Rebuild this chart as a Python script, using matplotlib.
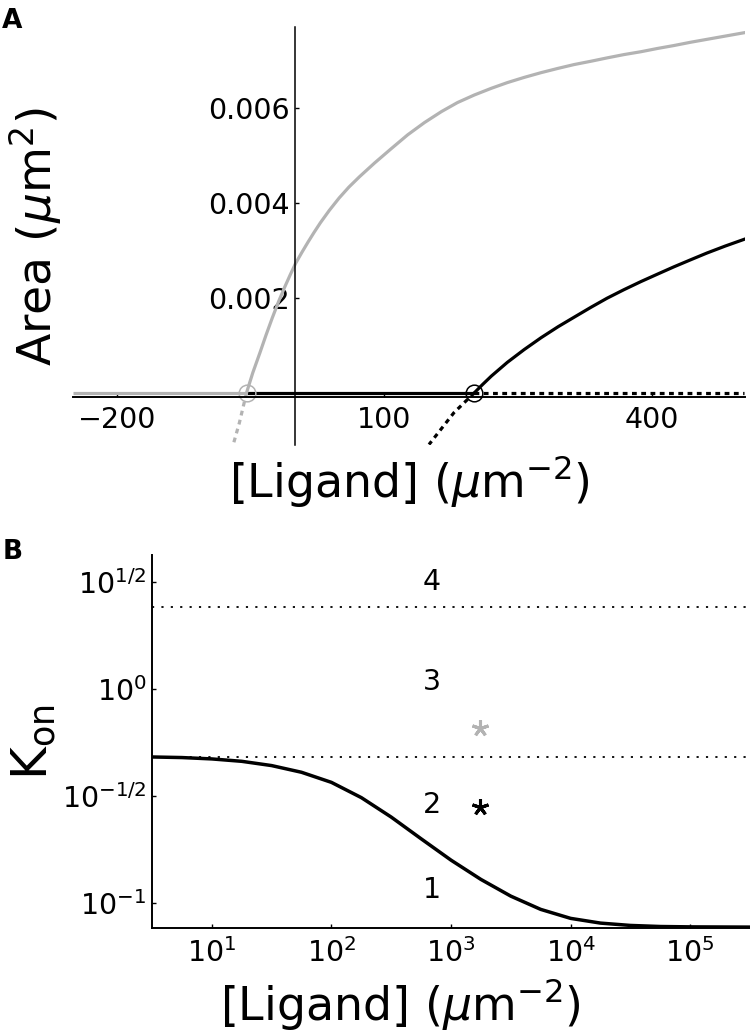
import matplotlib.pyplot as plt
import numpy as np

# -------------------------
# Panel A data
# -------------------------
grey_flat_x = [-250, -55]
grey_flat_a = [0.0, 0.0]
grey_rise_x = [-55, -48, -40, -33, -26, -19, -12, -6, 0, 7, 14, 21, 28, 38, 49,
               60, 72, 89, 107, 126, 145, 164, 182, 201, 220, 238, 257, 276,
               295, 313, 332, 350, 369, 388, 407, 425, 444, 462, 483, 504]
grey_rise_a = [0.0, 0.00042, 0.00084, 0.00122, 0.00158, 0.00192, 0.00223,
               0.00248, 0.00272, 0.00295, 0.00317, 0.00338, 0.00358, 0.00384,
               0.00410, 0.00433, 0.00455, 0.00484, 0.00513, 0.00543, 0.00569,
               0.00592, 0.00611, 0.00627, 0.00641, 0.00653, 0.00664, 0.00674,
               0.00683, 0.00691, 0.00698, 0.00705, 0.00712, 0.00718, 0.00725,
               0.00731, 0.00738, 0.00744, 0.00751, 0.00758]
grey_unstable_x = [-55.0, -63.0, -70.7]
grey_unstable_a = [0.0, -0.00063, -0.00114]

black_flat_x = [-55, 201]
black_flat_a = [0.0, 0.0]
black_rise_x = [201, 210, 220, 238, 257, 276, 295, 313, 332, 350, 369, 388,
                407, 425, 444, 462, 483, 504]
black_rise_a = [0.0, 0.00017, 0.00035, 0.00064, 0.00091, 0.00116, 0.00139,
                0.00159, 0.00180, 0.00199, 0.00217, 0.00234, 0.00250, 0.00265,
                0.00280, 0.00294, 0.00309, 0.00323]
black_unstable_x = [201, 178, 150]
black_unstable_a = [0.0, -0.00042, -0.00109]
black_dot_flat_x = [201, 504]
black_dot_flat_a = [0.0, 0.0]

bifurcation_x = [-55, 201]
bifurcation_colors = ["#b3b3b3", "black"]

xticks_A = [-200, 100, 400]
yticks_A = [0.002, 0.004, 0.006]
ytick_labels_A = ["0.002", "0.004", "0.006"]

# -------------------------
# Panel B data
# -------------------------
ligand_B = [3.16, 5.62, 10, 17.8, 31.6, 56.2, 100, 178, 316, 562, 1000, 1778,
            3162, 5623, 10000, 17783, 31623, 56234, 100000, 316228]
kon_B = [0.481, 0.478, 0.471, 0.459, 0.4385, 0.408, 0.366, 0.3105, 0.252,
         0.1995, 0.1585, 0.1288, 0.1076, 0.0933, 0.0847, 0.0805, 0.0785,
         0.0776, 0.0773, 0.0771]
boundaries = [0.481, 2.42]
region_labels = ["1", "2", "3", "4"]
region_kon = [0.115, 0.287, 1.08, 3.16]
region_ligand = 693
star_ligand = 1750
star_kon = [0.281, 0.658]
star_colors = ["black", "#b3b3b3"]

xticks_B = [1e1, 1e2, 1e3, 1e4, 1e5]
yticks_B = [10 ** -1, 10 ** -0.5, 1, 10 ** 0.5]
ytick_labels_B = [r"$10^{-1}$", r"$10^{-1/2}$", r"$10^{0}$", r"$10^{1/2}$"]

grey = "#b3b3b3"
tick_fs = 20.5
label_fs = 33

fig = plt.figure(figsize=(7.5, 10.32), dpi=100)

# ---------- Panel A ----------
axA = fig.add_axes([0.0973, 0.5688, 0.896, 0.405])
axA.plot(black_flat_x, black_flat_a, color="black", lw=2.3, solid_capstyle="butt")
axA.plot(black_rise_x, black_rise_a, color="black", lw=2.3)
axA.plot(black_dot_flat_x, black_dot_flat_a, color="black", lw=2.3,
         dashes=(1.5, 1.4))
axA.plot(black_unstable_x, black_unstable_a, color="black", lw=2.3,
         dashes=(1.5, 1.4))
axA.plot(grey_flat_x, grey_flat_a, color=grey, lw=2.3, solid_capstyle="butt")
axA.plot(grey_rise_x, grey_rise_a, color=grey, lw=2.3)
axA.plot(grey_unstable_x, grey_unstable_a, color=grey, lw=2.3,
         dashes=(1.5, 1.4))
for bx, bc in zip(bifurcation_x, bifurcation_colors):
    axA.plot([bx], [0], marker="o", ms=12, mfc="none", mec=bc, mew=1.1)

axA.set_xlim(-250, 505)
axA.set_ylim(-0.0011, 0.0077)
for s in ["top", "right"]:
    axA.spines[s].set_visible(False)
axA.spines["left"].set_position(("data", 0))
axA.spines["bottom"].set_position(("data", -0.000084))
axA.spines["left"].set_linewidth(1.1)
axA.spines["bottom"].set_linewidth(1.4)
axA.set_xticks(xticks_A)
axA.set_yticks(yticks_A)
axA.set_yticklabels(ytick_labels_A)
axA.tick_params(direction="in", length=3, width=1, labelsize=tick_fs)
axA.tick_params(axis="x", pad=7)
axA.tick_params(axis="y", pad=4)
axA.set_xlabel(r"[Ligand] ($\mu$m$^{-2}$)", fontsize=label_fs)
axA.xaxis.set_label_coords(0.5, -0.02)
axA.set_ylabel(r"Area ($\mu$m$^2$)", fontsize=34)
axA.yaxis.set_label_coords(-0.014, 0.497)

# ---------- Panel B ----------
axB = fig.add_axes([0.2027, 0.1008, 0.7973, 0.3614])
axB.set_xscale("log")
axB.set_yscale("log")
for b in boundaries:
    axB.axhline(b, color="black", lw=1.3, dashes=(1.2, 4))
axB.plot(ligand_B, kon_B, color="black", lw=2.5)
for lab, k in zip(region_labels, region_kon):
    axB.text(region_ligand, k, lab, fontsize=tick_fs, ha="center", va="center")
for k, c in zip(star_kon, star_colors):
    axB.plot([star_ligand], [k], marker=(5, 2, 0), ms=12, mec=c, mew=2.2,
             color=c)

axB.set_xlim(10 ** 0.5, 10 ** 5.5)
axB.set_ylim(10 ** -1.117, 10 ** 0.626)
for s in ["top", "right"]:
    axB.spines[s].set_visible(False)
for s in ["left", "bottom"]:
    axB.spines[s].set_linewidth(1.4)
axB.set_xticks(xticks_B)
axB.set_yticks(yticks_B)
axB.set_yticklabels(ytick_labels_B)
axB.minorticks_off()
axB.tick_params(direction="in", length=3, width=1, labelsize=tick_fs)
axB.tick_params(axis="x", pad=7)
axB.tick_params(axis="y", pad=4)
axB.set_xlabel(r"[Ligand] ($\mu$m$^{-2}$)", fontsize=label_fs)
axB.xaxis.set_label_coords(0.416, -0.13)
axB.set_ylabel(r"$\mathrm{K_{on}}$", fontsize=36)
axB.yaxis.set_label_coords(-0.157, 0.499)

fig.text(0.003, 0.992, "A", fontsize=19, fontweight="bold", va="top")
fig.text(0.003, 0.478, "B", fontsize=19, fontweight="bold", va="top")

fig.savefig("out.png", dpi=100)
